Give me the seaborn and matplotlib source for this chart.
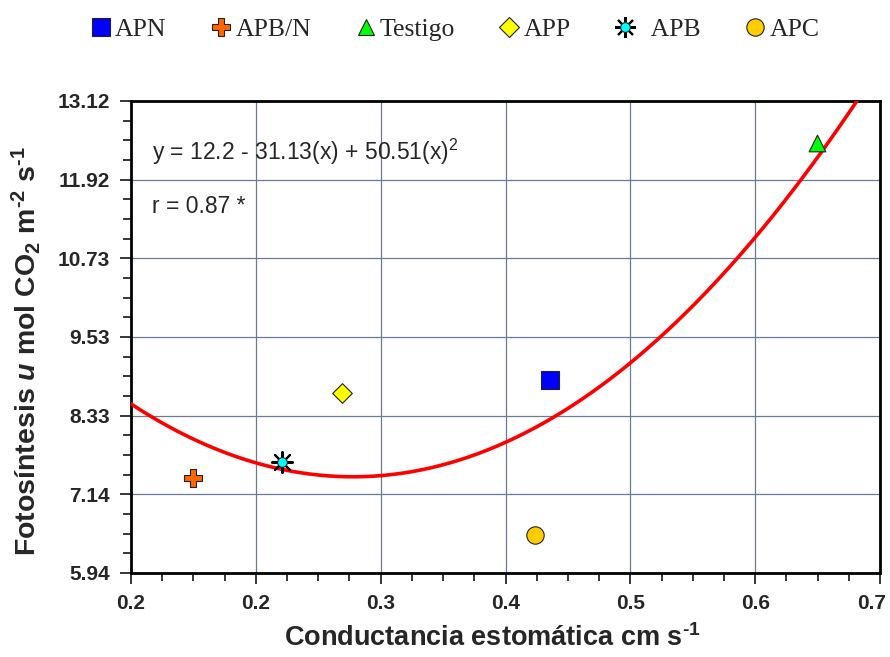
import numpy as np
import pandas as pd
import matplotlib
matplotlib.use("Agg")
import matplotlib.pyplot as plt
import matplotlib.transforms as mtransforms
from matplotlib.lines import Line2D
from matplotlib.legend_handler import HandlerTuple
from matplotlib.ticker import AutoMinorLocator
import seaborn as sns

# Treatments and their measured values
treatments = ["APN", "APB/N", "Testigo", "APP", "APB", "APC"]
conductance = [0.440, 0.2016, 0.618, 0.301, 0.261, 0.430]    # cm s-1
photosynthesis = [8.88, 7.38, 12.48, 8.68, 7.63, 6.52]        # u mol CO2 m-2 s-1

# Quadratic fit reported on the chart
fit_coef = [12.2, -31.13, 50.51]
fit_r = 0.87

# Axis ranges and tick labels
x_lo, x_hi = 0.16, 0.66
y_lo, y_hi = 5.94, 13.12
x_ticklabels = ["0.2", "0.2", "0.3", "0.4", "0.5", "0.6", "0.7"]
y_ticklabels = ["5.94", "7.14", "8.33", "9.53", "10.73", "11.92", "13.12"]

palette = {"APN": "#0000FF", "APB/N": "#FF6600", "Testigo": "#00FF00",
           "APP": "#FFFF00", "APB": "#00FFFF", "APC": "#FFCC00"}
markers = {"APN": "s", "APB/N": "P", "Testigo": "^",
           "APP": "D", "APB": "o", "APC": "o"}
msizes = {"APN": 13, "APB/N": 13, "Testigo": 12, "APP": 10, "APB": 7, "APC": 12.5}

sns.set_style("white")
plt.rcParams["font.family"] = ["Liberation Sans", "DejaVu Sans"]
plt.rcParams["mathtext.fontset"] = "custom"
plt.rcParams["mathtext.rm"] = "Liberation Sans"
plt.rcParams["mathtext.it"] = "Liberation Sans:italic"
plt.rcParams["mathtext.bf"] = "Liberation Sans:bold"
plt.rcParams["mathtext.bfit"] = "Liberation Sans:bold:italic"

df = pd.DataFrame({"trat": treatments, "gs": conductance, "A": photosynthesis})

fig = plt.figure(figsize=(8.9, 6.57), dpi=100)
ax = fig.add_axes([131 / 890, 84 / 657, 749 / 890, 472 / 657])

# fitted curve
xs = np.linspace(x_lo, x_hi, 400)
ys = fit_coef[0] + fit_coef[1] * xs + fit_coef[2] * xs ** 2
sns.lineplot(x=xs, y=ys, ax=ax, color="#FF0000", lw=2.6, zorder=3)

# APB drawn as a cyan core with black rays behind it
apb = df[df.trat == "APB"]
sns.scatterplot(data=apb, x="gs", y="A", marker=(8, 2, 0), s=15 ** 2,
                color="black", linewidth=1.5, ax=ax, zorder=4, legend=False)

for t in treatments:
    sub = df[df.trat == t]
    sns.scatterplot(data=sub, x="gs", y="A", marker=markers[t],
                    s=msizes[t] ** 2, color=palette[t], edgecolor="#222222",
                    linewidth=0.8, ax=ax, zorder=5, legend=False)

ax.set_xlim(x_lo, x_hi)
ax.set_ylim(y_lo, y_hi)
ax.set_xticks(np.linspace(x_lo, x_hi, len(x_ticklabels)))
ax.set_xticklabels(x_ticklabels)
ax.set_yticks(np.linspace(y_lo, y_hi, len(y_ticklabels)))
ax.set_yticklabels(y_ticklabels)
ax.xaxis.set_minor_locator(AutoMinorLocator(4))
ax.yaxis.set_minor_locator(AutoMinorLocator(4))
ax.tick_params(which="major", direction="out", length=8, width=1.3,
               labelsize=15, pad=7, left=True, bottom=True)
ax.tick_params(which="minor", direction="out", length=5.5, width=1.3,
               left=True, bottom=True)
for lab in ax.get_xticklabels() + ax.get_yticklabels():
    lab.set_fontweight("bold")
# pull the last x label slightly inward so it stays on the canvas
last = ax.get_xticklabels()[-1]
last.set_transform(last.get_transform() +
                   mtransforms.ScaledTranslation(-6 / 72, 0, fig.dpi_scale_trans))

ax.grid(True, which="major", color="#6b7a96", lw=0.9)
ax.set_axisbelow(True)
for sp in ax.spines.values():
    sp.set_color("black")
    sp.set_linewidth(2.0)

ax.set_xlabel("Conductancia estomática cm s$^\\mathbf{\u20101}$",
              fontsize=19.5, fontweight="bold")
ax.set_ylabel("Fotosíntesis $\\mathbfit{u}$ mol CO$_\\mathbf{2}$ m$^\\mathbf{\u20102}$ s$^\\mathbf{\u20101}$",
              fontsize=20.5, fontweight="bold")
ax.xaxis.set_label_coords(0.482, -0.108)
ax.yaxis.set_label_coords(-0.118, 0.47)

ax.text(0.174, 12.34,
        r"y = %.1f - %.2f(x) + %.2f(x)$^\mathrm{2}$" % (fit_coef[0], -fit_coef[1], fit_coef[2]),
        fontsize=16.5, va="center", ha="left")
ax.text(0.174, 11.51, "r = %.2f *" % fit_r, fontsize=16.5, va="center", ha="left")

# legend row above the plot
handles = []
for t in treatments:
    h = Line2D([], [], ls="none", marker=markers[t], color=palette[t],
               markerfacecolor=palette[t], markeredgecolor="#222222",
               markeredgewidth=0.8, markersize=msizes[t])
    if t == "APB":
        rays = Line2D([], [], ls="none", marker=(8, 2, 0), color="black",
                      markeredgewidth=1.5, markersize=15)
        h = (rays, h)
    handles.append(h)
labels = ["  " + t if t == "APB" else t for t in treatments]
leg = fig.legend(handles, labels, loc="center", bbox_to_anchor=(0.51, 0.955),
                 ncol=6, frameon=False, handletextpad=0.05, handlelength=1.0,
                 columnspacing=1.62,
                 prop={"family": "Liberation Serif", "size": 18.5},
                 handler_map={tuple: HandlerTuple(ndivide=1)})

fig.savefig("out.png", dpi=100)
